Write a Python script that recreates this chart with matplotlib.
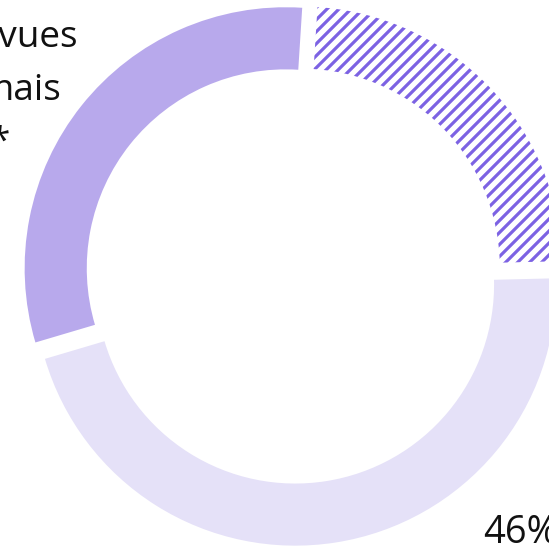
import matplotlib.pyplot as plt

shares = [23.6, 30.6, 45.8]
share_labels = ['', '', '46%']
label_lines = ['prévues', 'mais', '*']

hatch_color = '#7c62e3'
colors = ['white', '#b8a9ec', '#e5e1f8']

W, H = 549, 547
plt.rcParams['font.family'] = ['Open Sans', 'DejaVu Sans']
plt.rcParams['hatch.linewidth'] = 3.2

fig = plt.figure(figsize=(W / 72, H / 72), dpi=72)
ax = fig.add_axes([0, 0, 1, 1])

wedges, _ = ax.pie(shares,
                   colors=colors,
                   startangle=1.4,
                   counterclock=True,
                   explode=[0.039] * len(shares),
                   radius=1,
                   wedgeprops=dict(width=0.238, linewidth=0))

# first slice is drawn as stripes on white
wedges[0].set_hatch('//')
wedges[0].set_edgecolor(hatch_color)
wedges[0].set_linewidth(0)

# the view is cropped: centre sits at (293.6, 274.6) px, radius 261 px
px = 261.0
ax.set_aspect('auto')
ax.set_xlim(-293.6 / px, (W - 293.6) / px)
ax.set_ylim(-(H - 274.6) / px, 274.6 / px)
ax.axis('off')

# side label, cut by the left edge as in the source
right_edges = [78, 62, 10]
baselines = [47, 100, 152]
for line, xr, yb in zip(label_lines, right_edges, baselines):
  fig.text(xr / W, 1 - yb / H, line, ha='right', va='baseline',
           fontsize=37, color='#111111')

fig.text(483 / W, 1 - 543 / H, share_labels[2], ha='left', va='baseline',
         fontsize=38, color='#111111')

fig.savefig('out.png', dpi=72)
